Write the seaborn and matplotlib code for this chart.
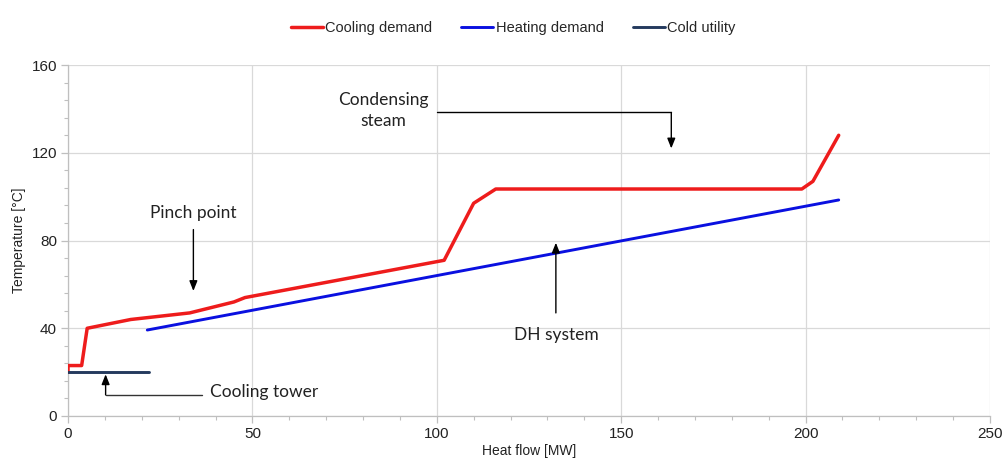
import numpy as np
import pandas as pd
import matplotlib
matplotlib.use("Agg")
import matplotlib.pyplot as plt
from matplotlib.ticker import MultipleLocator
import seaborn as sns

# Composite curves: heat flow [MW] vs temperature [°C]
cooling_q = [0, 0, 3.7, 5.2, 17, 33, 45, 48, 102, 110, 116, 199, 202, 209]
cooling_t = [20, 23, 23, 40, 44, 47, 52, 54, 71, 97, 103.5, 103.5, 107, 128]

heating_q = [21.5, 209]
heating_t = [39.2, 98.5]

utility_q = [0, 22]
utility_t = [20, 20]

series_names = ["Cooling demand", "Heating demand", "Cold utility"]
series_colors = ["#ee1c1c", "#0a10e0", "#243a5e"]

df = pd.concat([
    pd.DataFrame({"q": cooling_q, "t": cooling_t, "series": series_names[0], "order": range(len(cooling_q))}),
    pd.DataFrame({"q": heating_q, "t": heating_t, "series": series_names[1], "order": range(len(heating_q))}),
    pd.DataFrame({"q": utility_q, "t": utility_t, "series": series_names[2], "order": range(len(utility_q))}),
], ignore_index=True)

sns.set_theme(style="white")
plt.rcParams["font.family"] = ["Liberation Sans", "DejaVu Sans"]

fig = plt.figure(figsize=(10.06, 4.65), dpi=100)
ax = fig.add_axes([0.0676, 0.1054, 0.9164, 0.7546])

widths = {series_names[0]: 2.5, series_names[1]: 2.1, series_names[2]: 2.1}
for name, color in zip(series_names, series_colors):
    sub = df[df["series"] == name]
    sns.lineplot(data=sub, x="q", y="t", sort=False, estimator=None, color=color,
                 linewidth=widths[name], ax=ax, label=name, legend=False, zorder=3)

ax.set_xlim(0, 250)
ax.set_ylim(0, 160)
ax.xaxis.set_major_locator(MultipleLocator(50))
ax.xaxis.set_minor_locator(MultipleLocator(10))
ax.yaxis.set_major_locator(MultipleLocator(40))
ax.yaxis.set_minor_locator(MultipleLocator(8))

ax.grid(True, which="major", color="#d9d9d9", linewidth=0.9)
ax.grid(False, which="minor")
for s in ["top", "right"]:
    ax.spines[s].set_visible(False)
for s in ["left", "bottom"]:
    ax.spines[s].set_color("#bfbfbf")
    ax.spines[s].set_linewidth(0.9)

ax.tick_params(which="major", direction="out", length=5, width=0.9, color="#bfbfbf",
               labelsize=11, labelcolor="#222222", bottom=True, left=True, pad=3)
ax.tick_params(which="minor", direction="out", length=3, width=0.8, color="#bfbfbf",
               bottom=True, left=True)

ax.set_xlabel("Heat flow [MW]", fontsize=10, color="#222222", labelpad=2)
ax.set_ylabel("Temperature [°C]", fontsize=10, color="#222222", labelpad=4)

handles, labels = ax.get_legend_handles_labels()
fig.legend(handles, labels, loc="center", bbox_to_anchor=(0.51, 0.94), ncol=3,
           frameon=False, fontsize=10.5, handlelength=2.2, handletextpad=0.15,
           columnspacing=2.0)

# Annotations
ann_font = dict(family=["Lato", "DejaVu Sans"], fontsize=12.5, color="#222222")
arrow = dict(arrowstyle="-|>,head_length=0.5,head_width=0.2", color="black", lw=1.0,
             shrinkA=0, shrinkB=0)

# Pinch point
ax.text(34, 92.5, "Pinch point", ha="center", va="center", **ann_font)
ax.annotate("", xy=(34, 57), xytext=(34, 85), arrowprops=arrow)

# Condensing steam
ax.text(85.4, 139.3, "Condensing\nsteam", ha="center", va="center", multialignment="center",
        linespacing=1.45, **ann_font)
ax.plot([100, 163.6], [138.4, 138.4], color="black", lw=1.0)
ax.annotate("", xy=(163.6, 122), xytext=(163.6, 138.4), arrowprops=arrow)

# DH system
ax.text(132.5, 37, "DH system", ha="center", va="center", **ann_font)
ax.annotate("", xy=(132.3, 79), xytext=(132.3, 47), arrowprops=arrow)

# Cooling tower
ax.text(38.5, 10.8, "Cooling tower", ha="left", va="center", **ann_font)
ax.plot([36.4, 10.2], [9.6, 9.6], color="#333333", lw=1.0)
ax.annotate("", xy=(10.2, 19), xytext=(10.2, 9.6), arrowprops=arrow)

fig.savefig("out.png", dpi=100, facecolor="white")
